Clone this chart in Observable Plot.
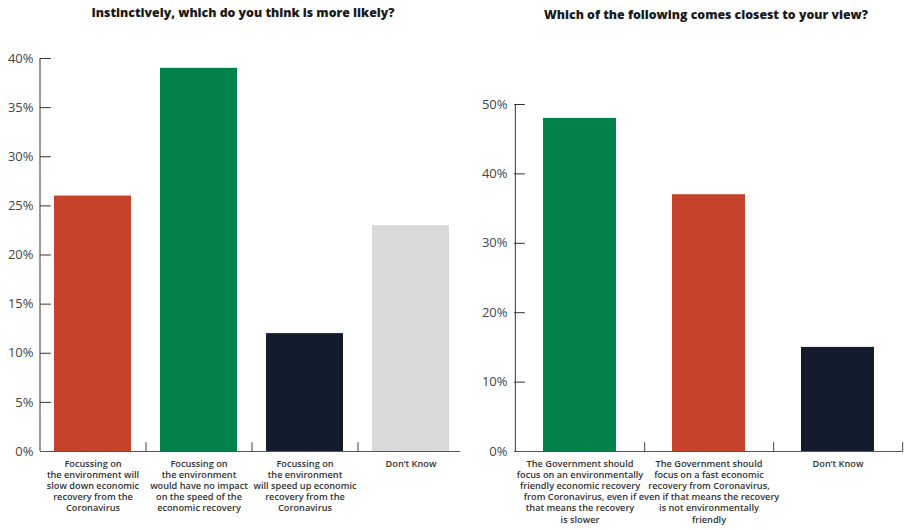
<!DOCTYPE html>
<html><head><meta charset="utf-8">
<script src="https://cdn.jsdelivr.net/npm/d3@7"></script>
<script src="https://cdn.jsdelivr.net/npm/@observablehq/plot@0.6"></script>
<style>
body{margin:0;background:#fff;font-family:"Open Sans",sans-serif;}
#wrap{position:relative;width:907px;height:529px;overflow:hidden;background:#fff;}
.title{position:absolute;top:5px;font-weight:800;font-size:12.3px;line-height:16px;color:#1a1a1a;text-align:center;white-space:nowrap;}
.panel{position:absolute;top:30px;}
</style></head><body>
<div id="wrap">
<div class="title" id="t1" style="left:0;width:486px;"></div>
<div class="title" id="t2" style="left:506px;width:400px;top:7px"></div>
<div class="panel" id="p1" style="left:0"></div>
<div class="panel" id="p2" style="left:460px"></div>
</div>
<script>
const leftTitle = "Instinctively, which do you think is more likely?";
const leftCategories = [
  "Focussing on\nthe environment will\nslow down economic\nrecovery from the\nCoronavirus",
  "Focussing on\nthe environment\nwould have no impact\non the speed of the\neconomic recovery",
  "Focussing on\nthe environment\nwill speed up economic\nrecovery from the\nCoronavirus",
  "Don’t Know"
];
const leftValues = [26, 39, 12, 23];
const leftColors = ["#c4432a", "#00824a", "#131c2c", "#d9d9d9"];
const leftTicks = [0, 5, 10, 15, 20, 25, 30, 35, 40];

const rightTitle = "Which of the following comes closest to your view?";
const rightCategories = [
  "The Government should\nfocus on an environmentally\nfriendly economic recovery\nfrom Coronavirus, even if\nthat means the recovery\nis slower",
  "The Government should\nfocus on a fast economic\nrecovery from Coronavirus,\neven if that means the recovery\nis not environmentally\nfriendly",
  "Don’t Know"
];
const rightValues = [48, 37, 15];
const rightColors = ["#00824a", "#c4432a", "#131c2c"];
const rightTicks = [0, 10, 20, 30, 40, 50];

const tickLine = {draw(ctx, l) { ctx.moveTo(0, 0); ctx.lineTo(0, -l); }};

function makeChart({cats, vals, colors, ticks, width, height, ml, mr, mt, mb, pad}) {
  const data = cats.map((c, i) => ({cat: c, value: vals[i]}));
  const step = (width - ml - mr) / cats.length;
  const yMax = ticks[ticks.length - 1];
  return Plot.plot({
    width, height,
    marginLeft: ml, marginRight: mr, marginTop: mt, marginBottom: mb,
    style: {fontFamily: "'Open Sans', sans-serif", background: "#fff", overflow: "visible"},
    x: {domain: cats, paddingInner: pad, paddingOuter: pad / 2},
    y: {domain: [ticks[0], yMax]},
    color: {domain: cats, range: colors},
    marks: [
      Plot.barY(data, {x: "cat", y: "value", fill: "cat"}),
      Plot.axisY({ticks, tickFormat: d => d + "%", tickSize: 0, tickPadding: 7,
        fill: "#444", fontSize: 13, label: null}),
      Plot.vector(ticks, {y: d => d, frameAnchor: "left", rotate: 90, length: 10,
        anchor: "start", shape: tickLine, stroke: "#333", strokeWidth: 1}),
      Plot.ruleX([cats[0]], {x: d => d, dx: -step / 2, y1: ticks[0], y2: yMax, stroke: "#333", strokeWidth: 1}),
      Plot.axisX({tickSize: 0, tickPadding: 8, fill: "#333",
        fontSize: 9.2, fontWeight: 600, lineHeight: 1.2, label: null}),
      Plot.ruleY([0], {stroke: "#555", strokeWidth: 1}),
      Plot.vector(cats, {x: d => d, frameAnchor: "bottom", dx: step / 2, length: 9,
        anchor: "start", shape: tickLine, stroke: "#444", strokeWidth: 1})
    ]
  });
}

document.getElementById("t1").textContent = leftTitle;
document.getElementById("t2").textContent = rightTitle;
document.getElementById("p1").appendChild(makeChart({
  cats: leftCategories, vals: leftValues, colors: leftColors, ticks: leftTicks,
  width: 470, height: 499, ml: 40, mr: 6, mt: 28, mb: 78, pad: 0.27
}));
document.getElementById("p2").appendChild(makeChart({
  cats: rightCategories, vals: rightValues, colors: rightColors, ticks: rightTicks,
  width: 447, height: 499, ml: 54, mr: 5, mt: 74, mb: 78, pad: 0.435
}));
</script>
</body></html>
